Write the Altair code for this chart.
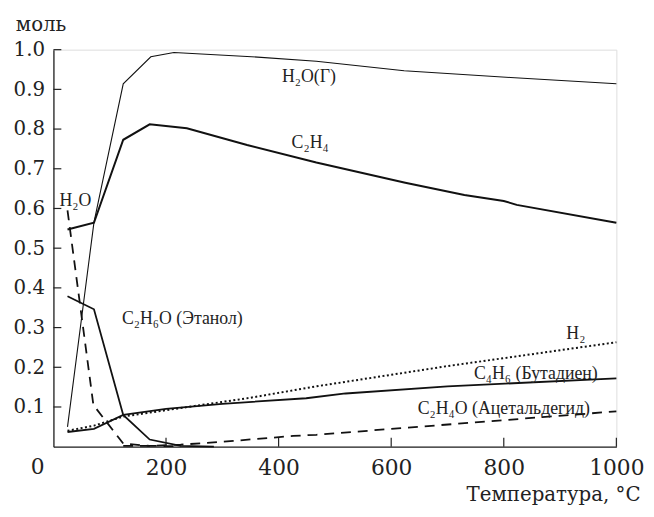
import altair as alt
import pandas as pd

# ---- data ----
T_h2og = [25, 72, 124, 173, 214, 344, 467, 623, 812, 1000]
V_h2og = [0.05, 0.565, 0.914, 0.982, 0.993, 0.983, 0.971, 0.947, 0.930, 0.914]

T_c2h4 = [25, 72, 124, 171, 237, 344, 467, 625, 730, 800, 823, 1000]
V_c2h4 = [0.547, 0.564, 0.773, 0.812, 0.802, 0.760, 0.716, 0.665, 0.634, 0.619, 0.609, 0.564]

T_eth = [25, 72, 124, 171, 226, 285]
V_eth = [0.379, 0.346, 0.080, 0.018, 0.002, 0.0]

T_h2ol = [25, 71, 124, 171, 226]
V_h2ol = [0.595, 0.105, 0.008, 0.002, 0.001]

T_acet = [124, 171, 226, 314, 426, 467, 1000]
V_acet = [0.002, 0.002, 0.005, 0.014, 0.027, 0.030, 0.089]

T_but = [25, 72, 124, 200, 300, 449, 519, 700, 1000]
V_but = [0.037, 0.045, 0.080, 0.095, 0.108, 0.122, 0.134, 0.152, 0.172]

T_h2 = [25, 72, 124, 349, 467, 700, 1000]
V_h2 = [0.040, 0.053, 0.076, 0.123, 0.152, 0.203, 0.263]

x_ticks = [200, 400, 600, 800, 1000]
y_ticks = [0.1, 0.2, 0.3, 0.4, 0.5, 0.6, 0.7, 0.8, 0.9, 1.0]

label_text = ["H₂O(Г)", "C₂H₄", "H₂O", "C₂H₆O (Этанол)", "H₂",
              "C₄H₆ (Бутадиен)", "C₂H₄O (Ацетальдегид)"]
label_T = [454, 456, 39, 229, 928, 857, 800]
label_V = [0.930, 0.764, 0.619, 0.321, 0.284, 0.182, 0.095]

FONT = "DejaVu Serif"
LFONT = "Liberation Serif"

series = {
    "h2og": (T_h2og, V_h2og),
    "c2h4": (T_c2h4, V_c2h4),
    "eth": (T_eth, V_eth),
    "h2ol": (T_h2ol, V_h2ol),
    "acet": (T_acet, V_acet),
    "but": (T_but, V_but),
    "h2": (T_h2, V_h2),
}
rows = []
for name, (ts, vs) in series.items():
    for i, (t, v) in enumerate(zip(ts, vs)):
        rows.append({"s": name, "T": t, "v": v, "o": i})
df = pd.DataFrame(rows)

xs = alt.Scale(domain=[0, 1000], nice=False, zero=False)
ys = alt.Scale(domain=[0, 1.0], nice=False)

xaxis = alt.Axis(values=x_ticks, format="d",
                 labelPadding=11, labelFontSize=22, labelFlush=False,
                 title="Температура, °C",
                 titleAlign="right", titleAnchor="end", titleX=594, titleY=54,
                 titleBaseline="alphabetic")
yaxis = alt.Axis(values=y_ticks, format=".1f",
                 labelPadding=9, labelFontSize=20, labelFlush=False,
                 title="моль", titleAngle=0,
                 titleAlign="center", titleX=-13, titleY=-19,
                 titleBaseline="alphabetic")

X = alt.X("T:Q", scale=xs, axis=xaxis)
Y = alt.Y("v:Q", scale=ys, axis=yaxis)

base = alt.Chart(df)


def line(name, width, dash=None):
    kw = dict(color="#111", strokeWidth=width, clip=False)
    if dash:
        kw["strokeDash"] = dash
    return base.transform_filter(alt.datum.s == name).mark_line(**kw).encode(
        x=X, y=Y, order="o:Q")


layers = [
    line("h2og", 1.1),
    line("c2h4", 2.0),
    line("eth", 1.8),
    line("h2ol", 1.8, [10, 7]),
    line("acet", 1.8, [10, 7]),
    line("but", 1.8),
    line("h2", 2.0, [2, 2.5]),
]

xt = pd.DataFrame({"T": x_ticks})
xtick = alt.Chart(xt).mark_rule(color="#222", strokeWidth=1.2).encode(
    x=X, y=alt.value(402), y2=alt.value(393))
yt = pd.DataFrame({"v": y_ticks})
ytick = alt.Chart(yt).mark_rule(color="#222", strokeWidth=1.2).encode(
    y=Y, x=alt.value(0), x2=alt.value(8))

zero = alt.Chart(pd.DataFrame({"T": [0], "v": [0], "t": ["0"]})).mark_text(
    font=FONT, fontSize=22, color="#222", baseline="top", align="center",
    dx=-16, dy=11).encode(x=X, y=Y, text="t:N")

labels = alt.Chart(pd.DataFrame({"T": label_T, "v": label_V, "t": label_text})).mark_text(
    font=LFONT, fontSize=18, color="#222", baseline="middle", align="center").encode(
    x=X, y=Y, text="t:N")

chart = alt.layer(*layers, xtick, ytick, zero, labels).properties(
    width=570, height=402,
    padding={"left": 46, "top": 39, "right": 30, "bottom": 68},
    autosize=alt.AutoSizeParams(type="none"),
).configure_view(stroke=None).configure(background="white").configure_axis(
    grid=False, ticks=False, tickSize=0,
    labelFont=FONT, labelColor="#222",
    domainColor="#222", domainWidth=1.3,
    titleFont=FONT, titleFontSize=20, titleFontWeight="normal", titleColor="#222",
)

chart.save("out.html", embed_options={"renderer": "svg", "actions": False})
